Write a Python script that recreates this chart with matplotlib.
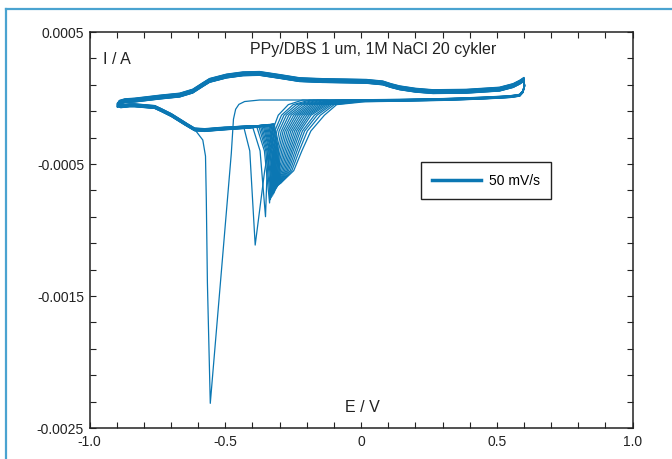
"""
PPy/DBS cyclic voltammogram, 20 cycles at 50 mV/s
"""

import matplotlib
matplotlib.use('Agg')
from matplotlib import pyplot as plt
from matplotlib.lines import Line2D

plt.rcParams['font.family'] = ['Liberation Sans', 'DejaVu Sans']

# E in V, I in A

# anodic branch, left vertex -> right vertex (centre of the band)
E_ox = [-0.897, -0.890, -0.870, -0.834, -0.742, -0.668, -0.620, -0.583, -0.558, -0.496, -0.435,
        -0.374, -0.300, -0.227, -0.142, -0.053, 0.019, 0.080, 0.110, 0.142, 0.200, 0.265,
        0.388, 0.510, 0.560, 0.584, 0.600]
I_ox = [-5.3e-5, -3.2e-5, -2.0e-5, -1.5e-5, 7.5e-6, 2.3e-5, 5.3e-5, 1.02e-4, 1.34e-4, 1.67e-4, 1.84e-4,
        1.87e-4, 1.64e-4, 1.40e-4, 1.33e-4, 1.30e-4, 1.27e-4, 1.15e-4, 9.5e-5, 7.8e-5, 6.0e-5, 4.9e-5,
        5.2e-5, 6.8e-5, 9.5e-5, 1.20e-4, 1.42e-4]

# return scan from the right vertex, flat part
E_flat = [0.600, 0.602, 0.596, 0.584, 0.550, 0.510, 0.450, 0.389, 0.300, 0.142, 0.000,
          -0.116, -0.200, -0.300, -0.374]
I_flat = [1.42e-4, 1.00e-4, 5.5e-5, 2.8e-5, 1.8e-5, 1.3e-5, 7e-6, 2e-6, -4e-6, -1.0e-5, -1.3e-5,
          -1.5e-5, -1.5e-5, -1.5e-5, -1.5e-5]

# lower cathodic branch back to the left vertex
E_low = [-0.337, -0.411, -0.503, -0.576, -0.613, -0.650, -0.699, -0.736, -0.760, -0.834, -0.853,
         -0.885, -0.897]
I_low = [-1.99e-4, -2.17e-4, -2.30e-4, -2.42e-4, -2.37e-4, -1.92e-4, -1.29e-4, -9.1e-5, -6.8e-5,
         -5.5e-5, -5.5e-5, -6.2e-5, -5.3e-5]

# cycle 1: big reduction spike
E_c1 = [-0.429, -0.450, -0.462, -0.470, -0.478, -0.5554, -0.566, -0.570, -0.573, -0.583, -0.613]
I_c1 = [-2.65e-5, -4.8e-5, -8.5e-5, -1.6e-4, -4.2e-4, -2.313e-3, -1.40e-3, -7.73e-4, -4.4e-4,
        -3.18e-4, -2.37e-4]

# cycles 2..20: potential where each cathodic peak passes these current levels
I_dep = -1.4e-5
I_levels = [-5.0e-5, -1.3e-4, -2.5e-4, -4.0e-4, -5.5e-4]
E_dep = [-0.215, -0.190, -0.175, -0.160, -0.147, -0.135, -0.123, -0.112, -0.101, -0.090,
         -0.079, -0.068, -0.057, -0.046, -0.035, -0.024, -0.012, 0.000, 0.015]
E_050 = [-0.268, -0.250, -0.238, -0.226, -0.215, -0.204, -0.194, -0.184, -0.175, -0.166,
         -0.157, -0.148, -0.140, -0.132, -0.124, -0.116, -0.108, -0.099, -0.090]
E_130 = [-0.305, -0.293, -0.284, -0.275, -0.266, -0.257, -0.248, -0.240, -0.232, -0.224,
         -0.216, -0.208, -0.200, -0.192, -0.184, -0.172, -0.162, -0.150, -0.135]
E_250 = [-0.327, -0.318, -0.310, -0.302, -0.294, -0.287, -0.280, -0.273, -0.266, -0.259,
         -0.252, -0.245, -0.238, -0.231, -0.224, -0.216, -0.208, -0.198, -0.185]
E_400 = [-0.342, -0.334, -0.322, -0.316, -0.310, -0.304, -0.298, -0.292, -0.286, -0.280,
         -0.274, -0.268, -0.262, -0.256, -0.250, -0.243, -0.236, -0.228, -0.218]
E_550 = [-0.355, -0.346, -0.332, -0.327, -0.322, -0.317, -0.312, -0.307, -0.302, -0.297,
         -0.292, -0.287, -0.282, -0.277, -0.272, -0.267, -0.261, -0.255, -0.248]
E_peak = [-0.390, -0.352, -0.337, -0.334, -0.331, -0.328, -0.325, -0.322, -0.320, -0.318,
          -0.316, -0.314, -0.312, -0.310, -0.308, -0.305, -0.302, -0.299, -0.296]
I_peak = [-1.114e-3, -8.99e-4, -7.95e-4, -7.70e-4, -7.55e-4, -7.45e-4, -7.35e-4, -7.25e-4,
          -7.15e-4, -7.05e-4, -6.95e-4, -6.88e-4, -6.80e-4, -6.73e-4, -6.66e-4, -6.60e-4,
          -6.55e-4, -6.50e-4, -6.45e-4]
I_left = -4.0e-4
E_left = [-0.410, -0.372, -0.356, -0.351, -0.347, -0.343, -0.339, -0.336, -0.333, -0.330,
          -0.327, -0.324, -0.322, -0.319, -0.316, -0.313, -0.310, -0.307, -0.304]
E_join = [-0.432, -0.400, -0.385, -0.377, -0.371, -0.366, -0.361, -0.357, -0.353, -0.349,
          -0.345, -0.341, -0.338, -0.335, -0.332, -0.329, -0.326, -0.323, -0.320]
I_join = [-2.20e-4, -2.15e-4, -2.12e-4, -2.10e-4, -2.08e-4, -2.07e-4, -2.06e-4, -2.05e-4,
          -2.04e-4, -2.03e-4, -2.02e-4, -2.01e-4, -2.00e-4, -1.99e-4, -1.98e-4, -1.97e-4,
          -1.96e-4, -1.95e-4, -1.94e-4]

# small drift of each cycle (band thickness)
shift_ox = [1.4e-5, 1.2e-5, 1.0e-5, 8e-6, 6e-6, 5e-6, 3e-6, 2e-6, 0.0, -1e-6,
            -3e-6, -4e-6, -6e-6, -7e-6, -9e-6, -1.0e-5, -1.1e-5, -1.3e-5, -1.4e-5, -1.5e-5]
shift_flat = [0.0, -1e-6, -2e-6, -3e-6, -3e-6, -4e-6, -5e-6, -6e-6, -6e-6, -7e-6,
              -8e-6, -8e-6, -9e-6, -1.0e-5, -1.0e-5, -1.1e-5, -1.2e-5, -1.2e-5, -1.3e-5, -1.4e-5]
shift_low = [1.1e-5, 1.0e-5, 8e-6, 7e-6, 6e-6, 4e-6, 3e-6, 2e-6, 1e-6, 0.0,
             -1e-6, -2e-6, -3e-6, -5e-6, -6e-6, -7e-6, -8e-6, -9e-6, -1.0e-5, -1.1e-5]

x_ticks = [-1.0, -0.9, -0.8, -0.7, -0.6, -0.5, -0.4, -0.3, -0.2, -0.1, 0.0,
           0.1, 0.2, 0.3, 0.4, 0.5, 0.6, 0.7, 0.8, 0.9, 1.0]
x_labels = {-1.0: '-1.0', -0.5: '-0.5', 0.0: '0', 0.5: '0.5', 1.0: '1.0'}
y_ticks = [0.0005, 0.0003, 0.0001, -0.0001, -0.0003, -0.0005, -0.0007, -0.0009, -0.0011,
           -0.0013, -0.0015, -0.0017, -0.0019, -0.0021, -0.0023, -0.0025]
y_labels = {0.0005: '0.0005', -0.0005: '-0.0005', -0.0015: '-0.0015', -0.0025: '-0.0025'}

color = '#0b77b3'

fig = plt.figure(figsize=(6.72, 4.59), dpi=100)
ax = fig.add_axes([0.1333, 0.0675, 0.808, 0.8627])

for k in range(20):
    E = list(E_ox)
    I = [v + shift_ox[k] for v in I_ox]
    if k == 0:
        e_dep, e_join = -0.38, -0.613
        dip_E, dip_I = E_c1, I_c1
    else:
        n = k - 1
        e_dep, e_join = E_dep[n], E_join[n]
        dip_E = [E_dep[n], E_050[n], E_130[n], E_250[n], E_400[n], E_550[n],
                 E_peak[n], E_left[n], E_join[n]]
        dip_I = [I_dep + shift_flat[k]] + I_levels + [I_peak[n], I_left, I_join[n]]
    for e, i in zip(E_flat, I_flat):
        if e > e_dep:
            E.append(e)
            I.append(i + shift_flat[k])
    E += dip_E
    I += dip_I
    for e, i in zip(E_low, I_low):
        if e < e_join:
            E.append(e)
            I.append(i + shift_low[k])
    E.append(E_ox[0])
    I.append(I_ox[0] + shift_ox[k])
    ax.plot(E, I, color=color, lw=0.9, solid_joinstyle='round')

ax.set_xlim(-1.0, 1.0)
ax.set_ylim(-0.0025, 0.0005)
ax.set_xticks(x_ticks)
ax.set_xticklabels([x_labels.get(round(t, 1), '') for t in x_ticks])
ax.set_yticks(y_ticks)
ax.set_yticklabels([y_labels.get(round(t, 4), '') for t in y_ticks])
ax.tick_params(direction='in', top=True, right=True, length=4, width=0.8,
               labelsize=10, colors='#222222')
ax.tick_params(axis='x', pad=5)
ax.tick_params(axis='y', pad=4)
for s in ax.spines.values():
    s.set_linewidth(1.1)
    s.set_color('#222222')

ax.text(-0.951, 0.000295, 'I / A', fontsize=11.5, ha='left', va='center', color='#222222')
ax.text(0.044, 0.00037, 'PPy/DBS 1 um, 1M NaCl 20 cykler', fontsize=11.5,
        ha='center', va='center', color='#222222')
ax.text(0.003, -0.002345, 'E / V', fontsize=11.5, ha='center', va='center', color='#222222')

leg = ax.legend(handles=[Line2D([], [], color=color, lw=2.5)], labels=['50 mV/s'],
                loc='center', bbox_to_anchor=(0.73, 0.625), fontsize=10, fancybox=False,
                edgecolor='#222222', framealpha=1, borderpad=0.8, handlelength=3.5,
                handletextpad=0.6)
leg.get_frame().set_linewidth(1.0)

# light blue frame at the top and left of the picture
fig.add_artist(Line2D([0.0082, 0.0082], [0.0, 0.9797], color='#4aa3d0', lw=1.6))
fig.add_artist(Line2D([0.0082, 1.0], [0.9797, 0.9797], color='#4aa3d0', lw=1.6))

fig.savefig('out.png', dpi=100)
